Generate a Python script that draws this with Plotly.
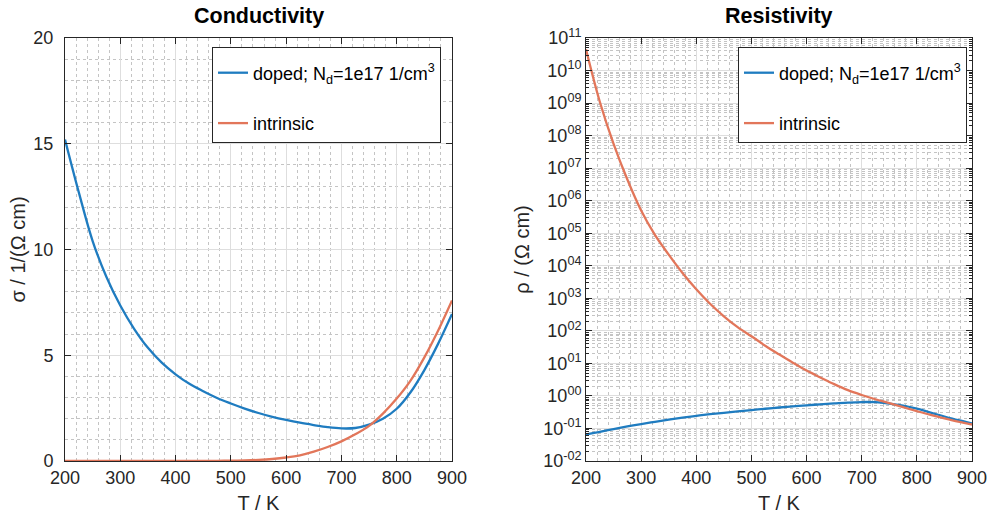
import plotly.graph_objects as go
from plotly.subplots import make_subplots

# Temperature grid (K)
T = [200, 225, 250, 275, 300, 325, 350, 375, 400, 425, 450, 475, 500, 525,
     550, 575, 600, 625, 650, 675, 700, 725, 750, 775, 800, 825, 850, 875, 900]

# Conductivity, 1/(Ohm cm)
sigma_doped = [15.2, 12.7, 10.4, 8.7, 7.35, 6.25, 5.35, 4.65, 4.1, 3.65, 3.3,
               2.98, 2.72, 2.48, 2.27, 2.09, 1.94, 1.81, 1.70, 1.60, 1.54,
               1.56, 1.72, 2.0, 2.47, 3.25, 4.3, 5.55, 6.95]
sigma_intrinsic = [2.2e-11, 8.9e-10, 1.8e-8, 2.2e-7, 2.0e-6, 1.1e-5, 4.5e-5,
                   1.7e-4, 5.4e-4, 1.5e-3, 3.5e-3, 7.6e-3, 0.015, 0.028, 0.052,
                   0.095, 0.166, 0.27, 0.44, 0.66, 0.93, 1.26, 1.66, 2.24, 2.95,
                   3.80, 4.90, 6.17, 7.59]

# Resistivity, Ohm cm
rho_doped = [0.066, 0.079, 0.096, 0.115, 0.136, 0.16, 0.187, 0.215, 0.244,
             0.274, 0.303, 0.336, 0.368, 0.403, 0.44, 0.478, 0.515, 0.552,
             0.588, 0.625, 0.649, 0.641, 0.581, 0.50, 0.405, 0.308, 0.233,
             0.18, 0.144]
rho_intrinsic = [4.5e10, 1.1e9, 5.6e7, 4.5e6, 5.0e5, 8.9e4, 2.2e4, 6.0e3, 1.9e3,
                 680, 280, 130, 68, 35, 19, 10.5, 6.0, 3.7, 2.3, 1.5, 1.07,
                 0.79, 0.60, 0.45, 0.34, 0.26, 0.204, 0.162, 0.132]

x_ticks = [200, 300, 400, 500, 600, 700, 800, 900]
sigma_ticks = [0, 5, 10, 15, 20]
rho_exponents = list(range(-2, 12))
rho_ticks = [10.0 ** e for e in rho_exponents]
rho_ticktext = ["10<sup>%s</sup>" % (("%03d" % e) if e < 0 else ("%02d" % e))
                for e in rho_exponents]

label_doped = "doped; N<sub>d</sub>=1e17 1/cm<sup>3</sup>"
label_intrinsic = "intrinsic"

BLUE = "#1f7cc0"
ORANGE = "#e2765a"
AXIS = "#262626"
FONT = "Liberation Sans, Arial, sans-serif"

fig = make_subplots(rows=1, cols=2)

fig.add_trace(go.Scatter(x=T, y=sigma_doped, mode="lines", name=label_doped,
                         line=dict(color=BLUE, width=2.3, shape="spline"),
                         legend="legend", legendgroup="d1"), row=1, col=1)
fig.add_trace(go.Scatter(x=T, y=sigma_intrinsic, mode="lines", name=label_intrinsic,
                         line=dict(color=ORANGE, width=2.3, shape="spline"),
                         legend="legend", legendgroup="i1"), row=1, col=1)
fig.add_trace(go.Scatter(x=T, y=rho_doped, mode="lines", name=label_doped,
                         line=dict(color=BLUE, width=2.3, shape="spline"),
                         legend="legend2", legendgroup="d2"), row=1, col=2)
fig.add_trace(go.Scatter(x=T, y=rho_intrinsic, mode="lines", name=label_intrinsic,
                         line=dict(color=ORANGE, width=2.3, shape="spline"),
                         legend="legend2", legendgroup="i2"), row=1, col=2)

W, H = 991, 524
y_dom = [1 - 461 / H, 1 - 38 / H]

common_x = dict(range=[200, 900], tickvals=x_ticks, ticks="inside", ticklen=6,
                tickcolor=AXIS, showline=True, linecolor=AXIS, linewidth=1,
                mirror="ticks", showgrid=True, gridcolor="#dedede", gridwidth=1,
                zeroline=False, automargin=False,
                tickfont=dict(size=18, color=AXIS),
                title=dict(text="T / K", font=dict(size=20, color=AXIS), standoff=9),
                minor=dict(dtick=20, showgrid=True, gridcolor="#c4c4c4",
                           griddash="dot", ticks=""))

legend_style = dict(yanchor="top", xanchor="right", bgcolor="white",
                    bordercolor=AXIS, borderwidth=1,
                    font=dict(size=18, color="black"), tracegroupgap=24,
                    itemwidth=30, title=dict(text=" ", font=dict(size=5)))

fig.update_layout(
    width=W, height=H,
    margin=dict(l=0, r=0, t=0, b=0, autoexpand=False),
    paper_bgcolor="white", plot_bgcolor="white",
    font=dict(family=FONT, color=AXIS),
    xaxis=dict(domain=[65 / W, 452 / W], **common_x),
    xaxis2=dict(domain=[586 / W, 972 / W], **common_x),
    yaxis=dict(domain=y_dom, range=[0, 20], tickvals=sigma_ticks, ticks="inside",
               ticklen=6, tickcolor=AXIS, showline=True, linecolor=AXIS,
               linewidth=1, mirror="ticks", showgrid=True, gridcolor="#dedede",
               zeroline=False, automargin=False, ticklabelstandoff=7,
               tickfont=dict(size=18, color=AXIS),
               title=dict(text="σ / 1/(Ω cm)", font=dict(size=20, color=AXIS),
                          standoff=2),
               minor=dict(dtick=1, showgrid=True, gridcolor="#c4c4c4",
                          griddash="dot", ticks="")),
    yaxis2=dict(domain=y_dom, type="log", range=[-2, 11], tickvals=rho_ticks,
                ticktext=rho_ticktext, ticks="inside", ticklen=6, tickcolor=AXIS,
                showline=True, linecolor=AXIS, linewidth=1, mirror="ticks",
                showgrid=True, gridcolor="#dedede", zeroline=False,
                automargin=False, tickfont=dict(size=18, color=AXIS),
                title=dict(text="ρ / (Ω cm)", font=dict(size=20, color=AXIS),
                           standoff=8),
                minor=dict(dtick="D1", showgrid=True, gridcolor="#c4c4c4",
                           griddash="dot", ticks="inside", ticklen=3,
                           tickcolor=AXIS)),
    legend=dict(x=441 / W, y=1 - 47 / H, **legend_style),
    legend2=dict(x=967 / W, y=1 - 47 / H, **legend_style),
    showlegend=True,
)

for i, txt in enumerate(["Conductivity", "Resistivity"]):
    xd = fig.layout["xaxis" if i == 0 else "xaxis2"].domain
    fig.add_annotation(text="<b>%s</b>" % txt, x=(xd[0] + xd[1]) / 2,
                       y=1 - 16 / H, xref="paper", yref="paper",
                       xanchor="center", yanchor="middle", showarrow=False,
                       font=dict(size=21.5, color="black"))

fig.write_html("out.html")
